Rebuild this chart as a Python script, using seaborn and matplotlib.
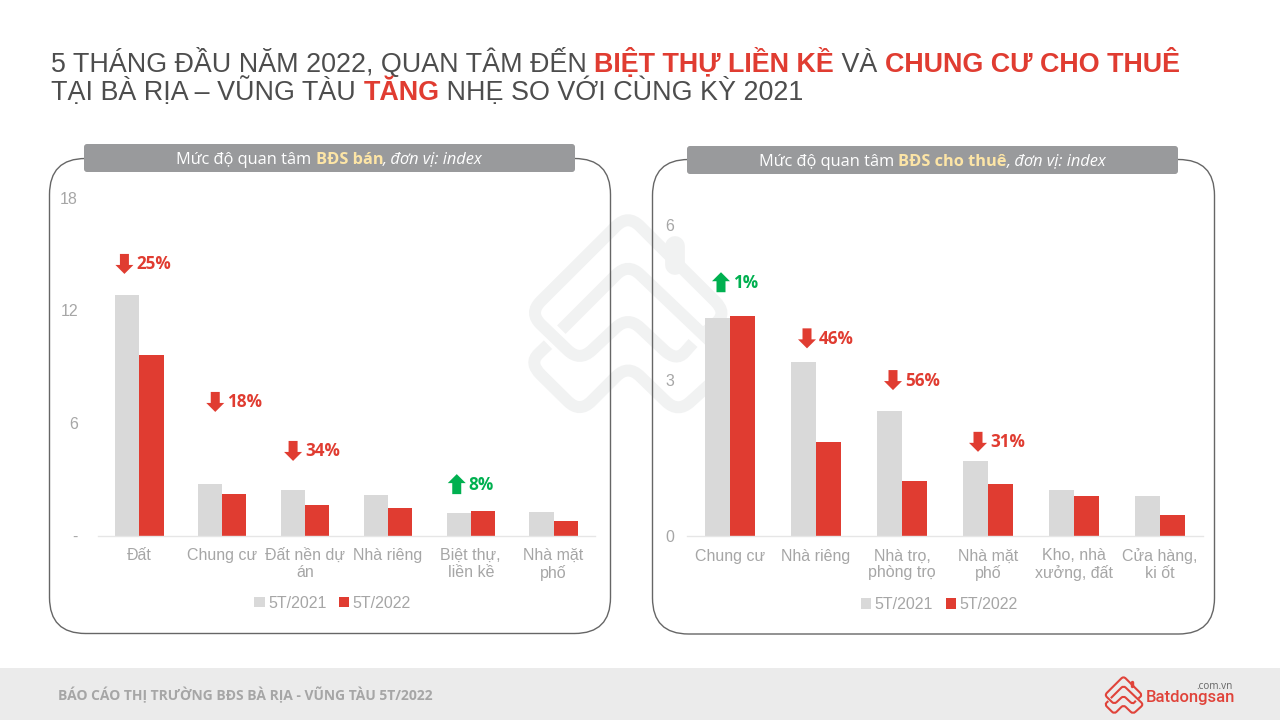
import matplotlib
matplotlib.use("Agg")
import matplotlib.pyplot as plt
from matplotlib.patches import FancyBboxPatch, PathPatch, Polygon, Rectangle
from matplotlib.path import Path
import pandas as pd
import seaborn as sns

# du lieu doc tu hinh
years = ["5T/2021", "5T/2022"]
sale_cats = ["Đất", "Chung cư", "Đất nền dự\nán", "Nhà riêng", "Biệt thự,\nliền kề", "Nhà mặt\nphố"]
sale_2021 = [12.83, 2.75, 2.43, 2.16, 1.2, 1.25]
sale_2022 = [9.63, 2.2, 1.63, 1.47, 1.3, 0.77]
sale_ticks = [0, 6, 12, 18]
sale_ticklabels = ["-", "6", "12", "18"]
sale_changes = ["25%", "18%", "34%", None, "8%", None]
sale_up = [False, False, False, False, True, False]

rent_cats = ["Chung cư", "Nhà riêng", "Nhà trọ,\nphòng trọ", "Nhà mặt\nphố", "Kho, nhà\nxưởng, đất", "Cửa hàng,\nki ốt"]
rent_2021 = [4.2, 3.35, 2.41, 1.45, 0.89, 0.77]
rent_2022 = [4.24, 1.81, 1.06, 1.0, 0.77, 0.4]
rent_ticks = [0, 3, 6]
rent_ticklabels = ["0", "3", "6"]
rent_changes = ["1%", "46%", "56%", "31%", None, None]
rent_up = [True, False, False, False, False, False]

GREY = "#d9d9d9"
RED = "#e03c31"
GREEN = "#00b050"
TXT = "#a6a6a6"
DARK = "#4d4d4d"

sns.set_theme(style="white")
plt.rcParams["font.family"] = "Liberation Sans"

fig = plt.figure(figsize=(12.8, 7.2), dpi=100, facecolor="white")


def px_axes(z):
    a = fig.add_axes([0, 0, 1, 1], zorder=z)
    a.set_xlim(0, 1280)
    a.set_ylim(720, 0)
    a.axis("off")
    a.patch.set_alpha(0)
    return a


bg = px_axes(0)
fg = px_axes(5)


def runs(a, x, y, parts, center=False):
    # viet nhieu doan chu khac kieu tren cung mot dong
    r = fig.canvas.get_renderer()
    items = []
    total = 0
    for s, kw in parts:
        t = a.text(x, y, s, va="baseline", ha="left", **kw)
        w = t.get_window_extent(r).width
        items.append((t, w))
        total += w
    cur = x - total / 2 if center else x
    for t, w in items:
        t.set_x(cur)
        cur += w


def rounded(points, r):
    verts = [points[0]]
    codes = [Path.MOVETO]
    for i in range(1, len(points) - 1):
        p0, p1, p2 = points[i - 1], points[i], points[i + 1]
        d1 = ((p1[0] - p0[0]) ** 2 + (p1[1] - p0[1]) ** 2) ** 0.5
        d2 = ((p2[0] - p1[0]) ** 2 + (p2[1] - p1[1]) ** 2) ** 0.5
        r1 = min(r, d1 / 2) / d1
        r2 = min(r, d2 / 2) / d2
        verts.append((p1[0] - (p1[0] - p0[0]) * r1, p1[1] - (p1[1] - p0[1]) * r1))
        codes.append(Path.LINETO)
        verts += [p1, (p1[0] + (p2[0] - p1[0]) * r2, p1[1] + (p2[1] - p1[1]) * r2)]
        codes += [Path.CURVE3, Path.CURVE3]
    verts.append(points[-1])
    codes.append(Path.LINETO)
    return Path(verts, codes)


def logo(a, cx, cy, k, color, lw):
    # hinh logo, toa do theo vung zoom
    s1 = [(520, 430), (470, 486), (325, 350), (180, 486), (28, 340), (325, 44), (622, 340), (560, 395)]
    s2 = [(125, 390), (325, 190), (640, 490), (475, 640), (325, 495), (180, 640), (28, 490), (85, 435)]
    for s in (s1, s2):
        pts = [(cx + (p - 325) * k / 3, cy + (q - 340) * k / 3) for p, q in s]
        a.add_patch(PathPatch(rounded(pts, 50 * k / 3), fill=False, ec=color, lw=lw, capstyle="butt"))
    a.plot([cx + 140 * k / 3] * 2, [cy - 202 * k / 3, cy - 145 * k / 3], color=color,
           lw=lw * 1.65, solid_capstyle="round")


# nen, watermark, khung
logo(bg, 628, 313, 1.0, "#f1f2f2", 8.6)
bg.add_patch(Rectangle((0, 668), 1280, 52, fc="#ebebeb", ec="none"))

for x0, x1, y0, y1 in [(49.5, 610.5, 158.5, 633.5), (652.5, 1214.5, 159.5, 634)]:
    bg.add_patch(FancyBboxPatch((x0 + 36, y0 + 36), x1 - x0 - 72, y1 - y0 - 72,
                                boxstyle="round,pad=36,rounding_size=36", fc="none", ec="#666666", lw=1))

for x0, x1, y0, y1, part in [(84, 575, 144, 172, "BĐS bán"), (687, 1178, 146, 174, "BĐS cho thuê")]:
    fg.add_patch(FancyBboxPatch((x0 + 3, y0 + 3), x1 - x0 - 6, y1 - y0 - 6,
                                boxstyle="round,pad=3,rounding_size=3", fc="#999a9c", ec="none"))
    runs(fg, (x0 + x1) / 2, (y0 + y1) / 2 + 5.5, [
        ("Mức độ quan tâm ", dict(family="Open Sans", size=11.8, color="white")),
        (part, dict(family="Open Sans", size=11.8, color="#fde5a6", weight="bold")),
        (", đơn vị: index", dict(family="Open Sans", size=11.8, color="white", style="italic")),
    ], center=True)

# tieu de
ts = dict(size=19.4, color=DARK)
tb = dict(size=19.4, color=RED, weight="bold")
runs(fg, 51, 72, [("5 THÁNG ĐẦU NĂM 2022, QUAN TÂM ĐẾN ", ts), ("BIỆT THỰ LIỀN KỀ", tb),
                  (" VÀ ", ts), ("CHUNG CƯ CHO THUÊ", tb)])
runs(fg, 51, 100, [("TẠI BÀ RỊA – VŨNG TÀU ", ts), ("TĂNG", tb), (" NHẸ SO VỚI CÙNG KỲ 2021", ts)])

# chan trang
fg.text(58, 700.5, "BÁO CÁO THỊ TRƯỜNG BĐS BÀ RỊA - VŨNG TÀU 5T/2022", family="Open Sans",
        weight="bold", size=9.97, color="#a6a6a6", va="baseline")
logo(fg, 1123.5, 695, 0.19, "#e0433a", 1.5)
fg.text(1146, 702, "Batdongsan", family="Roboto", weight="medium", size=12, color="#e0433a", va="baseline")
fg.text(1233, 689, ".com.vn", family="Open Sans", size=7.2, color="#666666", ha="right", va="baseline")


def px_rect(x0, x1, y_top, y_bot):
    return [x0 / 1280, 1 - y_bot / 720, (x1 - x0) / 1280, (y_bot - y_top) / 720]


def panel(rect, cats, v21, v22, ymax, ticks, ticklabels, pad, leg_x, leg_y, changes, ups, dx, gaps):
    ax = fig.add_axes(rect, zorder=2)
    ax.patch.set_alpha(0)
    df = pd.DataFrame({
        "cat": cats * 2,
        "year": [years[0]] * len(cats) + [years[1]] * len(cats),
        "val": v21 + v22,
    })
    sns.barplot(data=df, x="cat", y="val", hue="year", palette=[GREY, RED], width=0.585,
                gap=0, saturation=1, linewidth=0, ax=ax, legend=True)
    ax.set_xlim(-0.5, len(cats) - 0.5)
    ax.set_ylim(0, ymax)
    ax.set_xlabel("")
    ax.set_ylabel("")
    ax.set_yticks(ticks)
    ax.set_yticklabels(ticklabels)
    ax.tick_params(axis="y", length=0, pad=pad, labelsize=11.5, labelcolor=TXT)
    ax.tick_params(axis="x", length=0, pad=9, labelsize=11.5, labelcolor=TXT)
    for lab in ax.get_xticklabels():
        lab.set_linespacing(1.15)
    sns.despine(ax=ax, left=True)
    ax.spines["bottom"].set_color("#e6e6e6")
    ax.spines["bottom"].set_linewidth(1)

    h, l = ax.get_legend_handles_labels()
    ax.legend(h, l, loc="center", bbox_to_anchor=(leg_x, leg_y), ncol=2, frameon=False, fontsize=11.5,
              labelcolor=TXT, handlelength=0.65, handleheight=0.65, handletextpad=0.2, columnspacing=0.8,
              borderpad=0)

    # mui ten va % thay doi, dat theo cot cao hon
    for i, txt in enumerate(changes):
        if txt is None:
            continue
        xp, yp = ax.transData.transform((i, max(v21[i], v22[i])))
        cx = xp + dx[i]
        cy = 720 - yp - gaps[i]
        col = GREEN if ups[i] else RED
        sgn = -1 if ups[i] else 1
        pts = [(-4.5, -10), (4.5, -10), (4.5, 1), (9, 1), (0, 10), (-9, 1), (-4.5, 1)]
        fg.add_patch(Polygon([(cx + a, cy + sgn * b) for a, b in pts], fc=col, ec="none"))
        fg.text(cx + 12, cy + 5.5, txt, family="Open Sans", weight="bold", size=12.3, color=col, va="baseline")
    return ax


panel(px_rect(98, 595, 198, 535.5), sale_cats, sale_2021, sale_2022, 18, sale_ticks, sale_ticklabels,
      14.4, 0.472, -0.2, sale_changes, sale_up, [-15, -7, -12, 0, -14, 0], [31, 82, 39, 0, 27, 0])
panel(px_rect(687, 1203, 225, 536), rent_cats, rent_2021, rent_2022, 6, rent_ticks, rent_ticklabels,
      9.4, 0.489, -0.221, rent_changes, rent_up, [-9, -9, -9, -10, 0, 0], [34, 24, 31, 19, 0, 0])

fig.savefig("out.png", dpi=100)
